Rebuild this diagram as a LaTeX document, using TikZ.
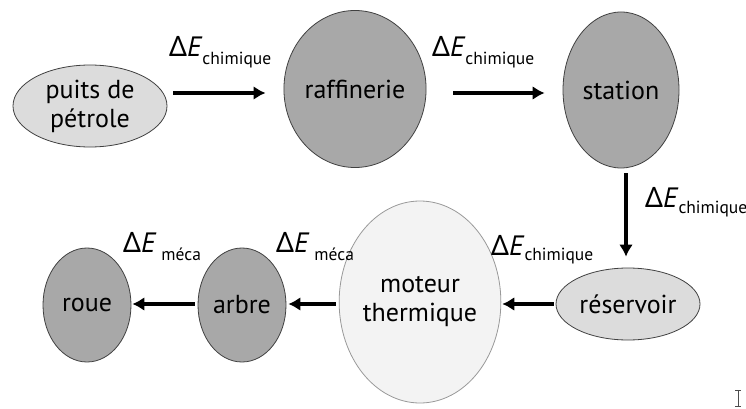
\documentclass[tikz,border=0pt]{standalone}
\usepackage{fontspec}
\setmainfont{PT Sans}
\newfontfamily\grk{Noto Sans}
\usetikzlibrary{shapes.geometric,arrows.meta}
\definecolor{lightfill}{HTML}{DCDCDC}
\definecolor{darkfill}{HTML}{A8A8A8}
\definecolor{palefill}{HTML}{F3F3F3}
\newcommand{\dE}[2][8pt]{{\fontsize{28}{30}\selectfont{\grk Δ}\textit{E}}\raisebox{-#1}{\fontsize{17.5}{18}\selectfont #2}}
\begin{document}
\begin{tikzpicture}[x=1pt,y=-1pt,
  blob/.style={ellipse,draw=black!75,line width=0.8pt,inner sep=0pt,align=center,
    font=\fontsize{26}{29}\selectfont},
  light/.style={blob,fill=lightfill},
  dark/.style={blob,fill=darkfill},
  pale/.style={blob,fill=palefill,draw=black!40},
  flow/.style={line width=4.5pt,-{Latex[length=12pt,width=14pt]}},
  lbl/.style={inner sep=0pt,anchor=base west}]
\useasboundingbox (0,0) rectangle (746,409);

% top row
\node[light,minimum width=154pt,minimum height=82pt] (puits) at (90,106) {puits de\\pétrole};
\node[dark,minimum width=114pt,minimum height=157pt] (raff) at (355,89) {raffinerie};
\node[dark,minimum width=116pt,minimum height=156pt] (station) at (621,90) {station};

% bottom row
\node[light,minimum width=144pt,minimum height=72pt] (reserv) at (628,304) {réservoir};
\node[pale,minimum width=135pt,minimum height=202pt] (moteur) at (420,302) {moteur\\thermique};
\node[dark,minimum width=88pt,minimum height=114pt] (arbre) at (242,305) {arbre};
\node[dark,minimum width=88pt,minimum height=114pt] (roue) at (87,305) {roue};

% energy transfers
\draw[flow,shorten <=6pt,shorten >=18pt] (puits.east |- 0,93) -- (raff.west |- 0,93);
\draw[flow,shorten <=27pt,shorten >=18pt] (raff.east |- 0,93) -- (station.west |- 0,93);
\draw[flow,shorten <=5pt,shorten >=11pt] (station.south -| 626,0) -- (reserv.north -| 626,0);
\draw[flow,shorten <=2pt,shorten >=1pt] (reserv.west) -- (moteur.east |- 0,304);
\draw[flow,shorten <=3pt,shorten >=2pt] (moteur.west |- 0,304) -- (arbre.east |- 0,304);
\draw[flow,shorten <=3pt,shorten >=1pt] (arbre.west |- 0,304) -- (roue.east |- 0,304);

% labels
\node[lbl] (l1) at (169,57) {\dE{chimique}};
\node[lbl] (l2) at (432,57) {\dE{chimique}};
\node[lbl] (l3) at (645,207) {\dE[6pt]{chimique}};
\node[lbl] (l4) at (491,255) {\dE[5pt]{chimique}};
\node[lbl] (l5) at (276,252) {\dE{\hspace{5pt}méca}};
\node[lbl] (l6) at (123,252) {\dE{\hspace{5pt}méca}};

% text cursor
\draw[black!70,line width=0.7pt] (738,390) -- (738,406) (735,390) -- (741,390) (735,406) -- (741,406);
\end{tikzpicture}
\end{document}
